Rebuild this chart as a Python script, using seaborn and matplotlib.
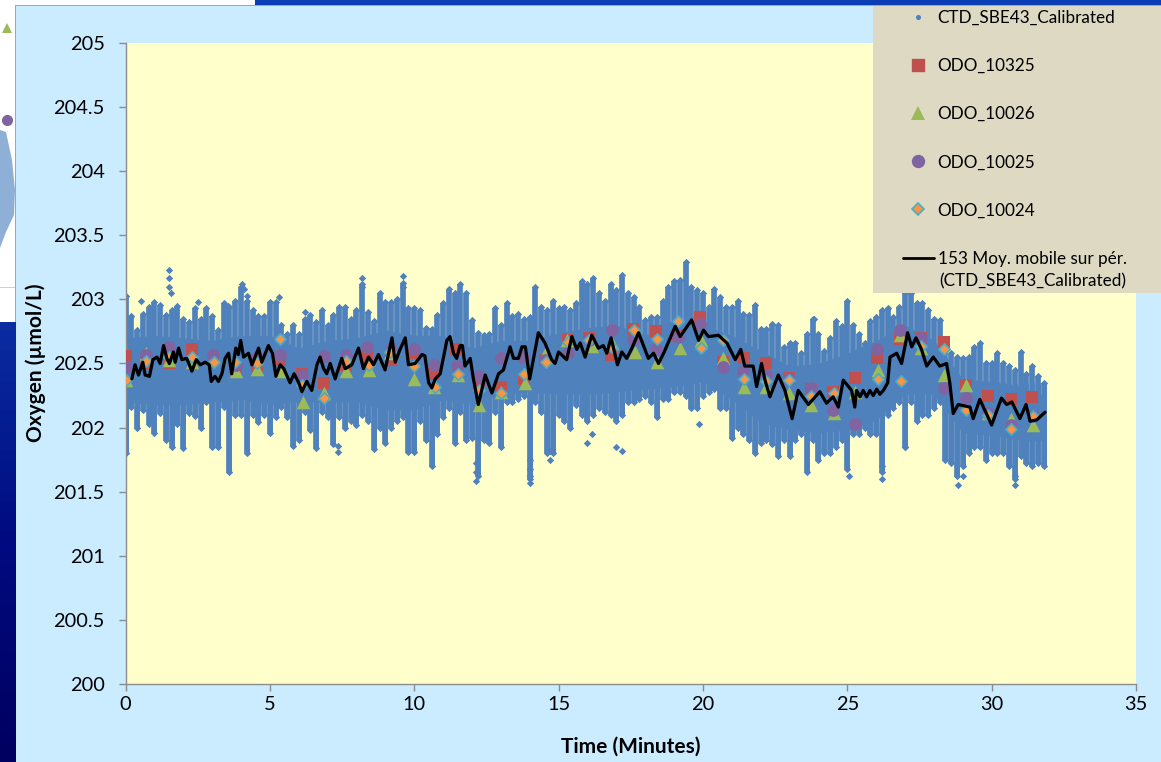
import numpy as np
import pandas as pd
import seaborn as sns
import matplotlib
matplotlib.use("Agg")
import matplotlib.pyplot as plt
from matplotlib.lines import Line2D
from matplotlib.patches import Rectangle, Polygon

# ---------- data ----------
cloud_t = [round(i * 0.2, 1) for i in range(160)]
cloud_high = [203.03,202.87,202.76,202.89,202.94,202.98,202.96,202.88,202.92,202.95,202.85,202.82,202.93,202.85,202.93,202.87,202.76,202.97,202.94,202.99,
203.10,202.99,202.92,202.87,202.87,202.98,202.98,202.80,202.73,202.80,202.73,202.85,202.88,202.82,202.92,202.80,202.88,202.94,202.94,202.85,
202.92,203.12,202.90,202.83,203.05,202.98,202.98,203.00,203.13,202.93,202.93,202.92,202.78,202.77,202.88,202.97,203.08,203.05,203.12,203.05,
202.84,202.74,202.72,202.73,202.93,202.80,202.97,202.87,202.89,202.85,202.86,203.10,202.94,202.92,202.99,202.93,202.94,202.92,202.97,203.14,
203.12,203.17,203.05,202.99,203.12,203.07,203.19,203.05,203.02,202.94,202.84,202.86,202.86,202.99,203.10,203.14,203.15,203.29,203.10,203.07,
203.05,202.94,203.08,203.02,202.94,202.94,202.99,202.89,202.88,202.96,202.77,202.77,202.81,202.80,202.63,202.66,202.66,202.58,202.73,202.85,
202.73,202.60,202.70,202.83,202.79,202.99,202.80,202.73,202.66,202.83,202.86,202.92,202.93,202.86,202.94,203.05,203.05,202.97,202.97,202.92,
202.85,202.84,202.66,202.58,202.55,202.54,202.55,202.63,202.66,202.50,202.50,202.58,202.50,202.48,202.45,202.59,202.42,202.48,202.40,202.35]
cloud_low = [201.80,202.16,202.00,202.14,202.03,201.96,202.11,201.90,201.85,202.03,201.84,202.11,202.09,202.00,202.20,201.85,201.85,202.16,201.65,202.10,
202.10,201.80,202.10,202.04,202.10,201.96,202.08,202.16,202.08,201.86,201.90,202.12,201.98,201.84,202.12,202.08,201.87,202.08,202.00,202.05,
202.02,202.10,202.05,201.83,202.00,201.88,202.00,202.05,202.08,201.81,201.81,202.05,201.90,201.70,201.95,202.08,202.15,201.88,202.12,201.90,
201.92,201.62,201.90,201.88,202.12,201.85,202.20,202.20,202.22,202.25,201.60,202.20,202.12,201.80,201.80,202.10,202.05,202.00,202.18,202.10,
202.05,202.10,202.15,202.12,202.10,202.05,202.10,202.20,202.20,202.22,202.25,202.20,202.08,202.22,202.22,202.28,202.28,202.25,202.15,202.15,
202.25,202.28,202.30,202.15,202.15,201.92,202.00,201.95,201.90,201.80,201.88,201.90,201.87,201.78,201.90,201.78,201.90,201.95,201.65,201.90,
201.75,201.80,201.80,201.85,201.90,201.68,201.95,201.95,202.00,201.95,201.95,201.65,202.10,202.15,202.20,201.85,202.20,202.05,202.10,202.10,
202.15,202.20,201.75,201.72,201.62,201.70,201.80,201.85,201.85,201.75,201.80,201.80,201.80,201.70,201.60,201.78,201.72,201.70,201.72,201.70]

core_t = list(range(32)) + [31.8]
core_high = [202.70,202.72,202.70,202.68,202.72,202.72,202.62,202.68,202.70,202.76,202.72,202.72,202.62,202.68,202.68,202.74,202.78,202.80,202.72,202.84,202.80,202.72,202.60,202.48,202.50,202.58,202.68,202.80,202.68,202.38,202.36,202.32,202.25]
core_low = [202.20,202.18,202.18,202.20,202.22,202.18,202.20,202.20,202.20,202.14,202.14,202.22,202.18,202.26,202.28,202.26,202.26,202.28,202.30,202.32,202.36,202.22,202.04,201.98,201.96,201.98,202.06,202.26,202.26,201.96,201.94,201.90,201.90]

stray_t = [1.5,1.5,1.5,1.58,0.55,2.5,3.55,4.05,4.1,4.2,5.3,6.2,7.35,7.35,8.2,8.2,9.6,9.6,12.15,12.15,12.15,14.0,14.0,14.0,14.0,14.7,14.7,16.0,16.15,17.0,17.2,19.85,23.85,27.0,25.05,26.2,26.2,29.0,28.85,30.8,30.8]
stray_v = [203.23,203.17,203.10,203.05,202.99,202.98,202.95,203.12,203.08,203.03,203.02,202.90,201.86,201.81,203.17,203.10,203.18,203.10,201.65,201.58,201.72,201.75,201.68,201.62,201.57,201.75,201.82,201.88,201.95,201.85,201.82,202.03,202.85,201.85,201.62,201.60,201.70,201.62,201.55,201.55,201.62]

avg_t = [0.22,0.33,0.45,0.6,0.68,0.83,0.95,1.09,1.2,1.32,1.43,1.52,1.66,1.72,1.84,1.95,2.12,2.3,2.45,2.59,2.76,2.9,2.97,3.1,3.22,3.34,3.45,3.57,3.68,3.82,3.91,3.99,4.09,4.26,4.38,4.61,4.72,4.95,5.09,5.21,5.36,5.48,5.7,5.84,6.0,6.11,6.28,6.45,6.63,6.74,6.86,6.97,7.09,7.26,7.49,7.61,7.84,8.07,8.24,8.42,8.59,8.76,8.99,9.23,9.34,9.51,9.69,9.8,10.03,10.27,10.37,10.5,10.61,10.73,10.9,11.13,11.24,11.36,11.47,11.59,11.67,11.76,11.94,12.05,12.22,12.46,12.69,12.92,13.09,13.32,13.44,13.61,13.73,13.85,14.0,14.3,14.53,14.76,14.88,15.0,15.28,15.46,15.63,15.75,15.92,16.15,16.38,16.55,16.67,16.82,17.04,17.19,17.36,17.54,17.77,18.11,18.29,18.46,18.64,19.04,19.21,19.61,19.85,20.02,20.19,20.54,20.83,21.12,21.31,21.45,21.74,21.86,22.03,22.15,22.32,22.61,22.84,23.09,23.3,23.65,24.05,24.28,24.51,24.69,24.86,25.15,25.26,25.32,25.44,25.55,25.67,25.78,25.9,26.02,26.13,26.25,26.4,26.48,26.71,26.88,27.09,27.23,27.38,27.57,27.75,27.98,28.2,28.44,28.55,28.67,28.84,29.25,29.36,29.59,30.0,30.34,30.52,30.7,30.98,31.19,31.33,31.56,31.85]
avg_v = [202.38,202.49,202.41,202.51,202.41,202.40,202.53,202.55,202.50,202.64,202.54,202.50,202.59,202.51,202.62,202.53,202.54,202.44,202.53,202.49,202.51,202.49,202.36,202.40,202.36,202.42,202.54,202.58,202.42,202.62,202.57,202.68,202.55,202.58,202.49,202.62,202.51,202.64,202.58,202.40,202.49,202.46,202.35,202.42,202.35,202.28,202.36,202.29,202.49,202.55,202.46,202.42,202.50,202.38,202.54,202.46,202.49,202.62,202.46,202.55,202.49,202.57,202.45,202.70,202.51,202.61,202.70,202.49,202.50,202.57,202.56,202.35,202.31,202.38,202.42,202.68,202.71,202.58,202.54,202.64,202.64,202.48,202.54,202.38,202.18,202.41,202.27,202.42,202.45,202.63,202.54,202.54,202.63,202.63,202.38,202.74,202.66,202.53,202.50,202.59,202.53,202.71,202.61,202.66,202.55,202.72,202.62,202.64,202.58,202.70,202.49,202.59,202.54,202.62,202.74,202.54,202.58,202.50,202.58,202.79,202.71,202.84,202.68,202.76,202.71,202.72,202.66,202.53,202.61,202.48,202.48,202.32,202.50,202.37,202.24,202.41,202.29,202.07,202.29,202.18,202.28,202.19,202.24,202.16,202.37,202.29,202.16,202.29,202.24,202.29,202.24,202.29,202.25,202.30,202.26,202.29,202.35,202.55,202.58,202.50,202.74,202.63,202.70,202.61,202.48,202.55,202.48,202.50,202.35,202.11,202.18,202.16,202.07,202.22,202.02,202.23,202.18,202.20,202.07,202.18,202.05,202.06,202.12]

odo325_t = [0,0.72,1.52,2.3,3.83,4.55,5.36,6.11,6.86,7.64,8.38,9.19,9.98,10.67,11.45,12.24,13.0,13.81,14.53,15.31,16.07,16.82,17.59,18.38,19.15,19.9,20.69,21.42,22.2,22.99,23.73,24.51,25.26,26.04,26.82,27.57,28.35,29.1,29.87,30.66,31.4]
odo325_v = [202.56,202.50,202.50,202.61,202.46,202.48,202.53,202.42,202.35,202.49,202.55,202.53,202.58,202.42,202.61,202.36,202.32,202.38,202.53,202.68,202.70,202.57,202.77,202.75,202.72,202.86,202.51,202.54,202.50,202.39,202.30,202.28,202.39,202.54,202.69,202.70,202.67,202.33,202.25,202.22,202.24]
odo026_t = [0,0.72,1.5,2.3,3.83,4.57,5.39,6.14,6.88,7.64,8.42,9.17,9.98,10.67,11.5,12.24,13.0,13.83,14.55,15.3,16.17,16.84,17.65,18.4,19.19,19.93,20.69,21.42,22.2,22.99,23.75,24.54,25.27,26.06,26.82,27.57,28.35,29.1,29.88,30.68,31.42]
odo026_v = [202.37,202.58,202.53,202.51,202.44,202.46,202.44,202.20,202.27,202.44,202.45,202.58,202.38,202.32,202.41,202.18,202.28,202.35,202.59,202.68,202.64,202.66,202.59,202.51,202.62,202.68,202.54,202.32,202.32,202.27,202.18,202.11,202.28,202.45,202.72,202.62,202.41,202.33,202.11,202.07,202.02]
odo025_t = [0,0.72,1.52,3.03,3.83,4.55,5.36,6.11,6.86,7.64,8.38,9.19,9.98,10.69,11.47,12.24,13.0,13.78,14.53,15.33,16.07,16.84,17.59,18.38,19.15,19.9,20.69,21.4,22.2,22.99,23.73,24.51,25.26,26.04,26.82,27.57,28.35,29.1,29.87,30.68,31.42]
odo025_v = [202.47,202.57,202.63,202.57,202.49,202.55,202.57,202.41,202.56,202.57,202.63,202.61,202.61,202.49,202.48,202.40,202.54,202.55,202.53,202.58,202.68,202.76,202.68,202.61,202.71,202.81,202.47,202.44,202.41,202.38,202.31,202.14,202.03,202.61,202.76,202.70,202.31,202.23,202.11,202.02,202.09]
odo024_t = [0,0.72,1.49,2.3,3.05,3.8,4.57,5.36,6.13,6.88,7.64,8.42,9.17,10.0,10.73,11.5,12.24,13.02,13.81,14.55,15.31,16.07,16.84,17.62,18.4,19.15,19.93,20.69,21.43,22.2,22.99,23.73,24.54,26.06,26.85,27.57,28.35,29.1,29.88,30.68,31.42]
odo024_v = [202.37,202.52,202.55,202.55,202.51,202.51,202.50,202.69,202.33,202.23,202.52,202.49,202.59,202.48,202.32,202.42,202.29,202.27,202.42,202.51,202.67,202.68,202.63,202.76,202.69,202.83,202.62,202.68,202.38,202.36,202.37,202.25,202.27,202.38,202.36,202.64,202.61,202.14,202.10,201.99,202.09]

x_ticks = [0,5,10,15,20,25,30,35]
y_ticks = [200,200.5,201,201.5,202,202.5,203,203.5,204,204.5,205]
y_tick_labels = ["200","200.5","201","201.5","202","202.5","203","203.5","204","204.5","205"]

series_names = ["CTD_SBE43_Calibrated","ODO_10325","ODO_10026","ODO_10025","ODO_10024","153 Moy. mobile sur pér."]
avg_second_line = "(CTD_SBE43_Calibrated)"

# ---------- styling ----------
BLUE, RED, GREEN, PURPLE = "#4F81BD", "#C0504D", "#9BBB59", "#8064A2"
ORANGE, TEAL = "#F79646", "#4BACC6"
sns.set_theme(style="white")
plt.rcParams["font.family"] = ["Lato", "DejaVu Sans"]
W, H = 1161, 762
fig = plt.figure(figsize=(W / 100, H / 100), dpi=100, facecolor="white")

def fig_rect(x0, y0, x1, y1, color, z=0):
    fig.add_artist(Rectangle((x0 / W, 1 - y1 / H), (x1 - x0) / W, (y1 - y0) / H,
                             transform=fig.transFigure, color=color, lw=0, zorder=z))

# surroundings of the screenshot: window behind the chart
strip = np.linspace(0, 1, 44)[:, None]
back = fig.add_axes([0, 0, 16 / W, (H - 322) / H], zorder=0)
back.imshow(strip, aspect="auto", cmap=matplotlib.colors.LinearSegmentedColormap.from_list(
    "strip", ["#0A2CA0", "#000A80", "#000060"]))
back.axis("off")
fig.add_artist(Polygon([(0, 1 - 130 / H), (6 / W, 1 - 132 / H), (12 / W, 1 - 160 / H), (15 / W, 1 - 190 / H),
                        (14 / W, 1 - 215 / H), (6 / W, 1 - 232 / H), (0, 1 - 248 / H)], closed=True,
                       transform=fig.transFigure, color="#8FB0D6", lw=0, zorder=0))
fig.add_artist(Line2D([7 / W], [1 - 120 / H], transform=fig.transFigure, ls="", marker="o",
                      ms=7, color=PURPLE, zorder=0.5))
fig.add_artist(Line2D([7 / W], [1 - 28 / H], transform=fig.transFigure, ls="", marker="^",
                      ms=7, mew=0, color=GREEN, zorder=0.5))
fig_rect(255, 0, W, 5, "#0B3DB5")
fig_rect(0, 287, 15, 288, "#D0D0D0")
fig_rect(15, 5, W, H, "#A6A6A6")
fig_rect(16, 6, W, H, "#CBEBFF")

ax = fig.add_axes([125.5 / W, 1 - 684 / H, (1136 - 125.5) / W, (684 - 43) / H], zorder=2)
ax.set_facecolor("#FFFFCC")

# cloud of CTD samples: solid body, close-packed top, separate fingers below
ax.fill_between(core_t, core_low, core_high, color=BLUE, lw=0, zorder=1)
ax.vlines(cloud_t, [min(l, 202.35) for l in cloud_low], cloud_high, color=BLUE, lw=4.1, zorder=1.5)
ax.vlines(cloud_t, cloud_low, [max(l, 202.35) for l in cloud_low], color=BLUE, lw=3.4, zorder=1.5)
edges = pd.DataFrame({"t": cloud_t + cloud_t + stray_t,
                      "v": cloud_high + cloud_low + stray_v})
sns.scatterplot(data=edges, x="t", y="v", ax=ax, marker="D", s=14, color=BLUE,
                linewidth=0, zorder=2, legend=False)

marker_sets = [(odo325_t, odo325_v, "s", RED, RED, 80),
               (odo026_t, odo026_v, "^", GREEN, GREEN, 95),
               (odo025_t, odo025_v, "o", PURPLE, PURPLE, 85),
               (odo024_t, odo024_v, "D", ORANGE, TEAL, 34)]
for i, (tt, vv, m, fc, ec, s) in enumerate(marker_sets):
    sns.scatterplot(x=tt, y=vv, ax=ax, marker=m, s=s, color=fc, edgecolor=ec,
                    linewidth=1.2 if m == "D" else 0, zorder=3 + i * 0.1, legend=False)

sns.lineplot(x=avg_t, y=avg_v, ax=ax, color="black", lw=2.3, zorder=4,
             estimator=None, sort=False)

ax.set_xlim(0, 35)
ax.set_ylim(200, 205)
ax.set_xticks(x_ticks)
ax.set_yticks(y_ticks)
ax.set_yticklabels(y_tick_labels)
for s in ("top", "right"):
    ax.spines[s].set_visible(False)
for s in ("left", "bottom"):
    ax.spines[s].set_color("#8C8C8C")
    ax.spines[s].set_linewidth(1.0)
ax.tick_params(axis="both", direction="out", length=5, width=1, color="#8C8C8C",
               labelsize=14.4, labelcolor="black", left=True, bottom=True)
ax.tick_params(axis="y", pad=10)
ax.tick_params(axis="x", pad=4)
ax.set_xlabel("Time (Minutes)", fontsize=15, fontweight="bold", color="black")
ax.set_ylabel("Oxygen (µmol/L)", fontsize=15, fontweight="bold", color="black")
ax.xaxis.set_label_coords((630.5 - 125.5) / (1136 - 125.5), -(737 - 684) / (684 - 43))
ax.yaxis.set_label_coords(-(125.5 - 46) / (1136 - 125.5), (684 - 363) / (684 - 43))

# legend panel
fig_rect(873, 6, W, 293, "#DDD9C3", z=5)
handles = [
    Line2D([], [], ls="", marker="o", ms=2.6, color=BLUE),
    Line2D([], [], ls="", marker="s", ms=8.6, color=RED),
    Line2D([], [], ls="", marker="^", ms=9.6, color=GREEN, mew=0),
    Line2D([], [], ls="", marker="o", ms=8.6, color=PURPLE),
    Line2D([], [], ls="", marker="D", ms=6, mfc=ORANGE, mec=TEAL, mew=1.2),
    Line2D([], [], color="black", lw=2.0),
]
leg = fig.legend(handles, series_names, loc="upper left",
                 bbox_to_anchor=(903 / W, 1 - 10 / H), frameon=False, fontsize=12.3,
                 labelspacing=1.88, handlelength=1.8, handletextpad=0.22,
                 borderpad=0, borderaxespad=0, labelcolor="black")
leg.set_zorder(6)
fig.text(939 / W, 1 - 281 / H, avg_second_line, fontsize=12.3, color="black",
         va="center", ha="left", zorder=6)

fig.savefig("out.png", dpi=100)
